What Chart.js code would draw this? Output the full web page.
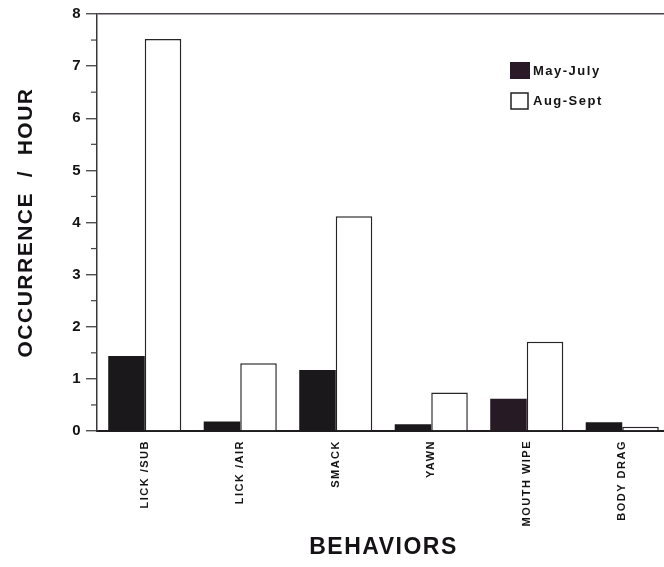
<!DOCTYPE html>
<html>
<head>
<meta charset="utf-8">
<script src="https://cdn.jsdelivr.net/npm/chart.js@4.4.1/dist/chart.umd.min.js"></script>
<style>
html,body{margin:0;padding:0;background:#fff;overflow:hidden;}
#wrap{position:absolute;left:0;top:0;width:670px;height:567px;}
</style>
</head>
<body>
<div id="wrap"><canvas id="c"></canvas></div>
<script>
const categories = ['LICK /SUB', 'LICK /AIR', 'SMACK', 'YAWN', 'MOUTH WIPE', 'BODY DRAG'];
const mayJuly = [1.44, 0.18, 1.17, 0.13, 0.62, 0.17];
const augSept = [7.52, 1.30, 4.12, 0.74, 1.71, 0.08];
const seriesNames = ['May-July', 'Aug-Sept'];
const yMin = 0, yMax = 8;

const FONT = '"Liberation Sans", Arial, Helvetica, sans-serif';
const INK = '#141214';

const spacingPlugin = {
  id: 'spacing',
  beforeUpdate(chart) { chart.ctx.letterSpacing = '1.5px'; },
  beforeDraw(chart) { chart.ctx.letterSpacing = '1.5px'; }
};

const minorTicks = {
  id: 'minorTicks',
  afterDraw(chart) {
    const y = chart.scales.y, ctx = chart.ctx;
    ctx.save();
    ctx.strokeStyle = '#444';
    ctx.lineWidth = 1.2;
    for (let v = yMin + 0.5; v < yMax; v += 1) {
      const py = y.getPixelForValue(v);
      ctx.beginPath();
      ctx.moveTo(y.right - 6, py);
      ctx.lineTo(y.right, py);
      ctx.stroke();
    }
    ctx.restore();
  }
};

const legendPlugin = {
  id: 'customLegend',
  afterDraw(chart) {
    const ctx = chart.ctx, a = chart.chartArea;
    const x0 = a.right - 160, y0 = a.top + 48;
    ctx.save();
    ctx.letterSpacing = '1.5px';
    ctx.font = 'bold 13px ' + FONT;
    ctx.textBaseline = 'middle';
    chart.data.datasets.forEach((ds, i) => {
      const by = y0 + i * 30;
      if (i === 0) {
        ctx.fillStyle = '#2a1a28';
        ctx.fillRect(x0, by, 20, 17);
      } else {
        ctx.fillStyle = '#fff';
        ctx.fillRect(x0 + 1, by + 1, 17, 16);
        ctx.strokeStyle = '#222';
        ctx.lineWidth = 1.5;
        ctx.strokeRect(x0 + 1, by + 1, 17, 16);
      }
      ctx.fillStyle = INK;
      ctx.fillText(ds.label, x0 + 23, by + 9);
    });
    ctx.restore();
  }
};

new Chart(document.getElementById('c'), {
  type: 'bar',
  data: {
    labels: categories,
    datasets: [
      {
        label: seriesNames[0],
        data: mayJuly,
        backgroundColor: ['#1a181a', '#1a181a', '#1a181a', '#1a181a', '#261a24', '#1a181a'],
        borderWidth: 0
      },
      {
        label: seriesNames[1],
        data: augSept,
        backgroundColor: '#ffffff',
        borderColor: '#262426',
        borderWidth: 1.5,
        borderSkipped: 'bottom'
      }
    ]
  },
  plugins: [spacingPlugin, minorTicks, legendPlugin],
  options: {
    responsive: true,
    maintainAspectRatio: false,
    animation: false,
    layout: { padding: { top: 14, bottom: 2, left: 10, right: 0 } },
    plugins: { legend: { display: false }, tooltip: { enabled: false } },
    datasets: { bar: { categoryPercentage: 0.765, barPercentage: 1.0 } },
    scales: {
      x: {
        grid: { display: true, color: 'transparent', drawTicks: false },
        border: { display: true, color: '#1e1c1e', width: 2 },
        ticks: {
          maxRotation: 90, minRotation: 90, padding: 9, autoSkip: false,
          color: INK, font: { family: FONT, size: 11, weight: 'bold' }
        },
        title: {
          display: true, text: 'BEHAVIORS', color: INK,
          font: { family: FONT, size: 23, weight: 'bold' }
        },
        afterFit(scale) { scale.height = 134; }
      },
      y: {
        min: yMin, max: yMax,
        grid: {
          drawOnChartArea: true,
          color: ctx => (ctx.tick && ctx.tick.value === yMax) ? '#4a444a' : 'transparent',
          lineWidth: 1.5,
          tickLength: 11,
          tickColor: ctx => (ctx.tick && Number.isInteger(ctx.tick.value)) ? '#333' : 'transparent',
          tickWidth: 1.2
        },
        border: { display: true, color: '#3a383a', width: 1.5 },
        ticks: {
          stepSize: 0.5, padding: 4, autoSkip: false,
          color: INK, font: { family: FONT, size: 15, weight: 'bold' },
          callback: v => Number.isInteger(v) ? String(v) : ''
        },
        title: {
          display: true, text: 'OCCURRENCE  /  HOUR', color: INK,
          font: { family: FONT, size: 21, weight: 'bold' }
        },
        afterFit(scale) { scale.width = 87; }
      }
    }
  }
});
</script>
</body>
</html>
